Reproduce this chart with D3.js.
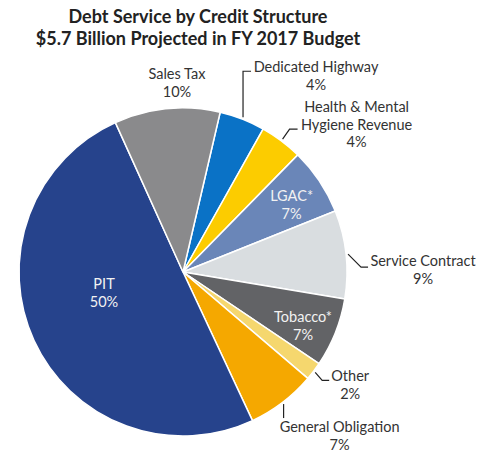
<!DOCTYPE html>
<html>
<head>
<meta charset="utf-8">
<script src="https://cdn.jsdelivr.net/npm/d3@7"></script>
<style>
  html, body { margin: 0; padding: 0; background: #fff; }
  svg { display: block; }
</style>
</head>
<body>
<svg id="chart" width="486" height="453"></svg>
<script>
// ---- data ----
const categories = ["Dedicated Highway", "Health & Mental Hygiene Revenue", "LGAC*", "Service Contract",
                    "Tobacco*", "Other", "General Obligation", "PIT", "Sales Tax"];
const shares = [4.5, 4.2, 6.6, 8.7, 6.8, 1.8, 6.8, 50.2, 10.4];
const pctLabels = ["4%", "4%", "7%", "9%", "7%", "2%", "7%", "50%", "10%"];
const titleLines = ["Debt Service by Credit Structure", "$5.7 Billion Projected in FY 2017 Budget"];

// ---- styles / layout ----
const colors = ["#0a72c6", "#fccc00", "#6a86b8", "#d9dde0", "#626366", "#f5d76e", "#f5a800", "#26438c", "#8a8a8c"];
const W = 486, H = 453, cx = 183, cy = 272, R = 164;
const startDeg = 13.1;
const FONT = "Lato, 'Open Sans', sans-serif";

// label layout: text lines, whether inside/outside, leader elbow
const labelLayout = {
  "Dedicated Highway": {lines: ["Dedicated Highway"], leader: [[0, -46], [8, 0]], tdx: 65, tdy: 1},
  "Health & Mental Hygiene Revenue": {lines: ["Health & Mental", "Hygiene Revenue"], leader: [[7, -10], [8, 0]], tdx: 59, tdy: -17},
  "LGAC*": {lines: ["LGAC*"], inside: [58.8, 127]},
  "Service Contract": {lines: ["Service Contract"], leader: [[13, 13], [7, 0]], tdx: 55, tdy: -1},
  "Tobacco*": {lines: ["Tobacco*"], inside: [114.6, 132]},
  "Other": {lines: ["Other"], leader: [[7, 8], [7, 0]], tdx: 21, tdy: 1},
  "General Obligation": {lines: ["General Obligation"], leader: [[0, 14]], tdx: 56, tdy: 14},
  "PIT": {lines: ["PIT"], inside: [254.4, 82]},
  "Sales Tax": {lines: ["Sales Tax"], free: [-1.8, 193]}
};

const svg = d3.select("#chart");

// title
svg.append("text")
  .attr("x", 198).attr("y", 23)
  .attr("text-anchor", "middle")
  .attr("font-family", FONT).attr("font-weight", 700).attr("font-size", 18)
  .attr("fill", "#222")
  .selectAll("tspan").data(titleLines).join("tspan")
  .attr("x", 198).attr("dy", (d, i) => i === 0 ? 0 : 22)
  .text(d => d);

const data = categories.map((c, i) => ({cat: c, value: shares[i], pct: pctLabels[i], color: colors[i]}));
const rad = Math.PI / 180;
const pie = d3.pie().sort(null).value(d => d.value)
  .startAngle(startDeg * rad).endAngle(startDeg * rad + 2 * Math.PI);
const arcs = pie(data);
const arc = d3.arc().innerRadius(0).outerRadius(R);

const g = svg.append("g").attr("transform", `translate(${cx},${cy})`);
g.selectAll("path").data(arcs).join("path")
  .attr("d", arc)
  .attr("fill", d => d.data.color)
  .attr("stroke", "#fff")
  .attr("stroke-width", 1.5)
  .attr("stroke-linejoin", "round");

const polar = (deg, r) => [r * Math.sin(deg * rad), -r * Math.cos(deg * rad)];

arcs.forEach(a => {
  const L = labelLayout[a.data.cat];
  const lines = L.lines.concat([a.data.pct]);
  let tx, ty, fill = "#333";
  if (L.inside) {
    const p = polar(L.inside[0], L.inside[1]);
    tx = p[0]; ty = p[1] - 5; fill = "#f2f2f2";
  } else if (L.free) {
    const p = polar(L.free[0], L.free[1]);
    tx = p[0]; ty = p[1];
  } else {
    const mid = (a.startAngle + a.endAngle) / 2;
    const s = [166 * Math.sin(mid), -166 * Math.cos(mid)];
    const pts = [s];
    let cur = s;
    L.leader.forEach(d => { cur = [cur[0] + d[0], cur[1] + d[1]]; pts.push(cur); });
    g.append("path")
      .attr("d", d3.line()(pts))
      .attr("fill", "none").attr("stroke", "#222").attr("stroke-width", 1.2);
    tx = cur[0] + L.tdx; ty = cur[1] + L.tdy;
  }
  const t = g.append("text")
    .attr("x", tx).attr("y", ty)
    .attr("text-anchor", "middle")
    .attr("font-family", FONT).attr("font-size", 14.5)
    .attr("fill", fill);
  t.selectAll("tspan").data(lines).join("tspan")
    .attr("x", tx).attr("dy", (d, i) => i === 0 ? 0 : (L.lines.length > 1 && i === lines.length - 1 ? 17 : 18))
    .text(d => d);
});
</script>
</body>
</html>
